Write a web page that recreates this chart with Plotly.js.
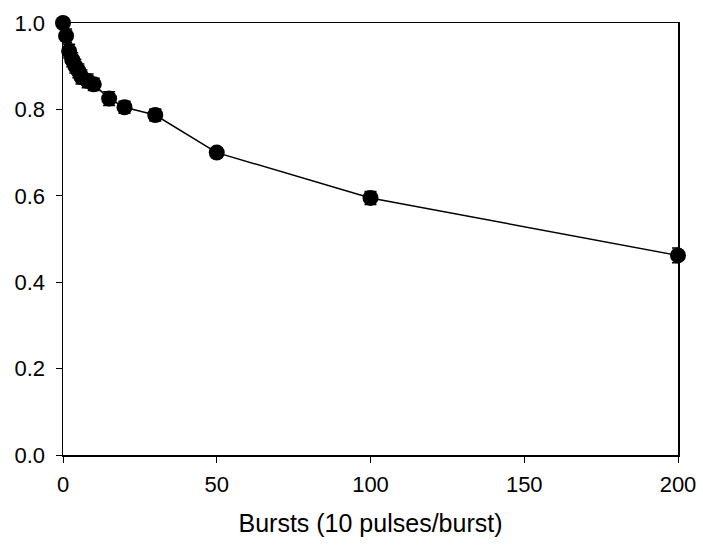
<!DOCTYPE html>
<html>
<head>
<meta charset="utf-8">
<script src="https://cdn.plot.ly/plotly-3.0.1.min.js"></script>
<style>html,body{margin:0;padding:0;background:#fff;}#chart{width:703px;height:548px;}</style>
</head>
<body>
<div id="chart"></div>
<script>
const bursts = [0, 1, 2, 3, 4, 5, 6, 8, 10, 15, 20, 30, 50, 100, 200];
const fraction = [1.0, 0.97, 0.935, 0.915, 0.90, 0.889, 0.875, 0.866, 0.858, 0.825, 0.805, 0.787, 0.700, 0.595, 0.462];
const errors = [0.0, 0.016, 0.016, 0.016, 0.016, 0.016, 0.016, 0.016, 0.014, 0.016, 0.014, 0.014, 0.01, 0.015, 0.017];
const xTicks = [0, 50, 100, 150, 200];
const yTicks = [0, 0.2, 0.4, 0.6, 0.8, 1.0];

const trace = {
  x: bursts, y: fraction, type: 'scatter', mode: 'lines+markers',
  line: {color: '#000', width: 1.5},
  marker: {color: '#000', size: 16},
  error_y: {type: 'data', array: errors, visible: true, color: '#000', thickness: 1.5, width: 6},
  cliponaxis: false
};
const font = {family: 'Liberation Sans, Arial, sans-serif', color: '#000'};
const layout = {
  width: 703, height: 548,
  margin: {l: 63, r: 25, t: 23, b: 93},
  paper_bgcolor: '#fff', plot_bgcolor: '#fff',
  showlegend: false,
  font: font,
  xaxis: {
    range: [0, 200], tickvals: xTicks, ticktext: xTicks.map(String),
    ticks: 'outside', ticklen: 6, tickwidth: 1, tickcolor: '#000',
    showline: true, linecolor: '#000', linewidth: 1.5, mirror: true,
    showgrid: false, zeroline: false, ticklabelstandoff: 3,
    tickfont: {family: font.family, size: 22, color: '#000'},
    title: {text: 'Bursts (10 pulses/burst)', font: {family: font.family, size: 25, color: '#000'}, standoff: 18}
  },
  yaxis: {
    range: [0, 1], tickvals: yTicks, ticktext: yTicks.map(v => v.toFixed(1)),
    ticks: 'outside', ticklen: 6, tickwidth: 1, tickcolor: '#000',
    showline: true, linecolor: '#000', linewidth: 1.5, mirror: true,
    showgrid: false, zeroline: false, ticklabelstandoff: 6,
    tickfont: {family: font.family, size: 22, color: '#000'}
  }
};
Plotly.newPlot('chart', [trace], layout, {displayModeBar: false, staticPlot: true});
</script>
</body>
</html>
